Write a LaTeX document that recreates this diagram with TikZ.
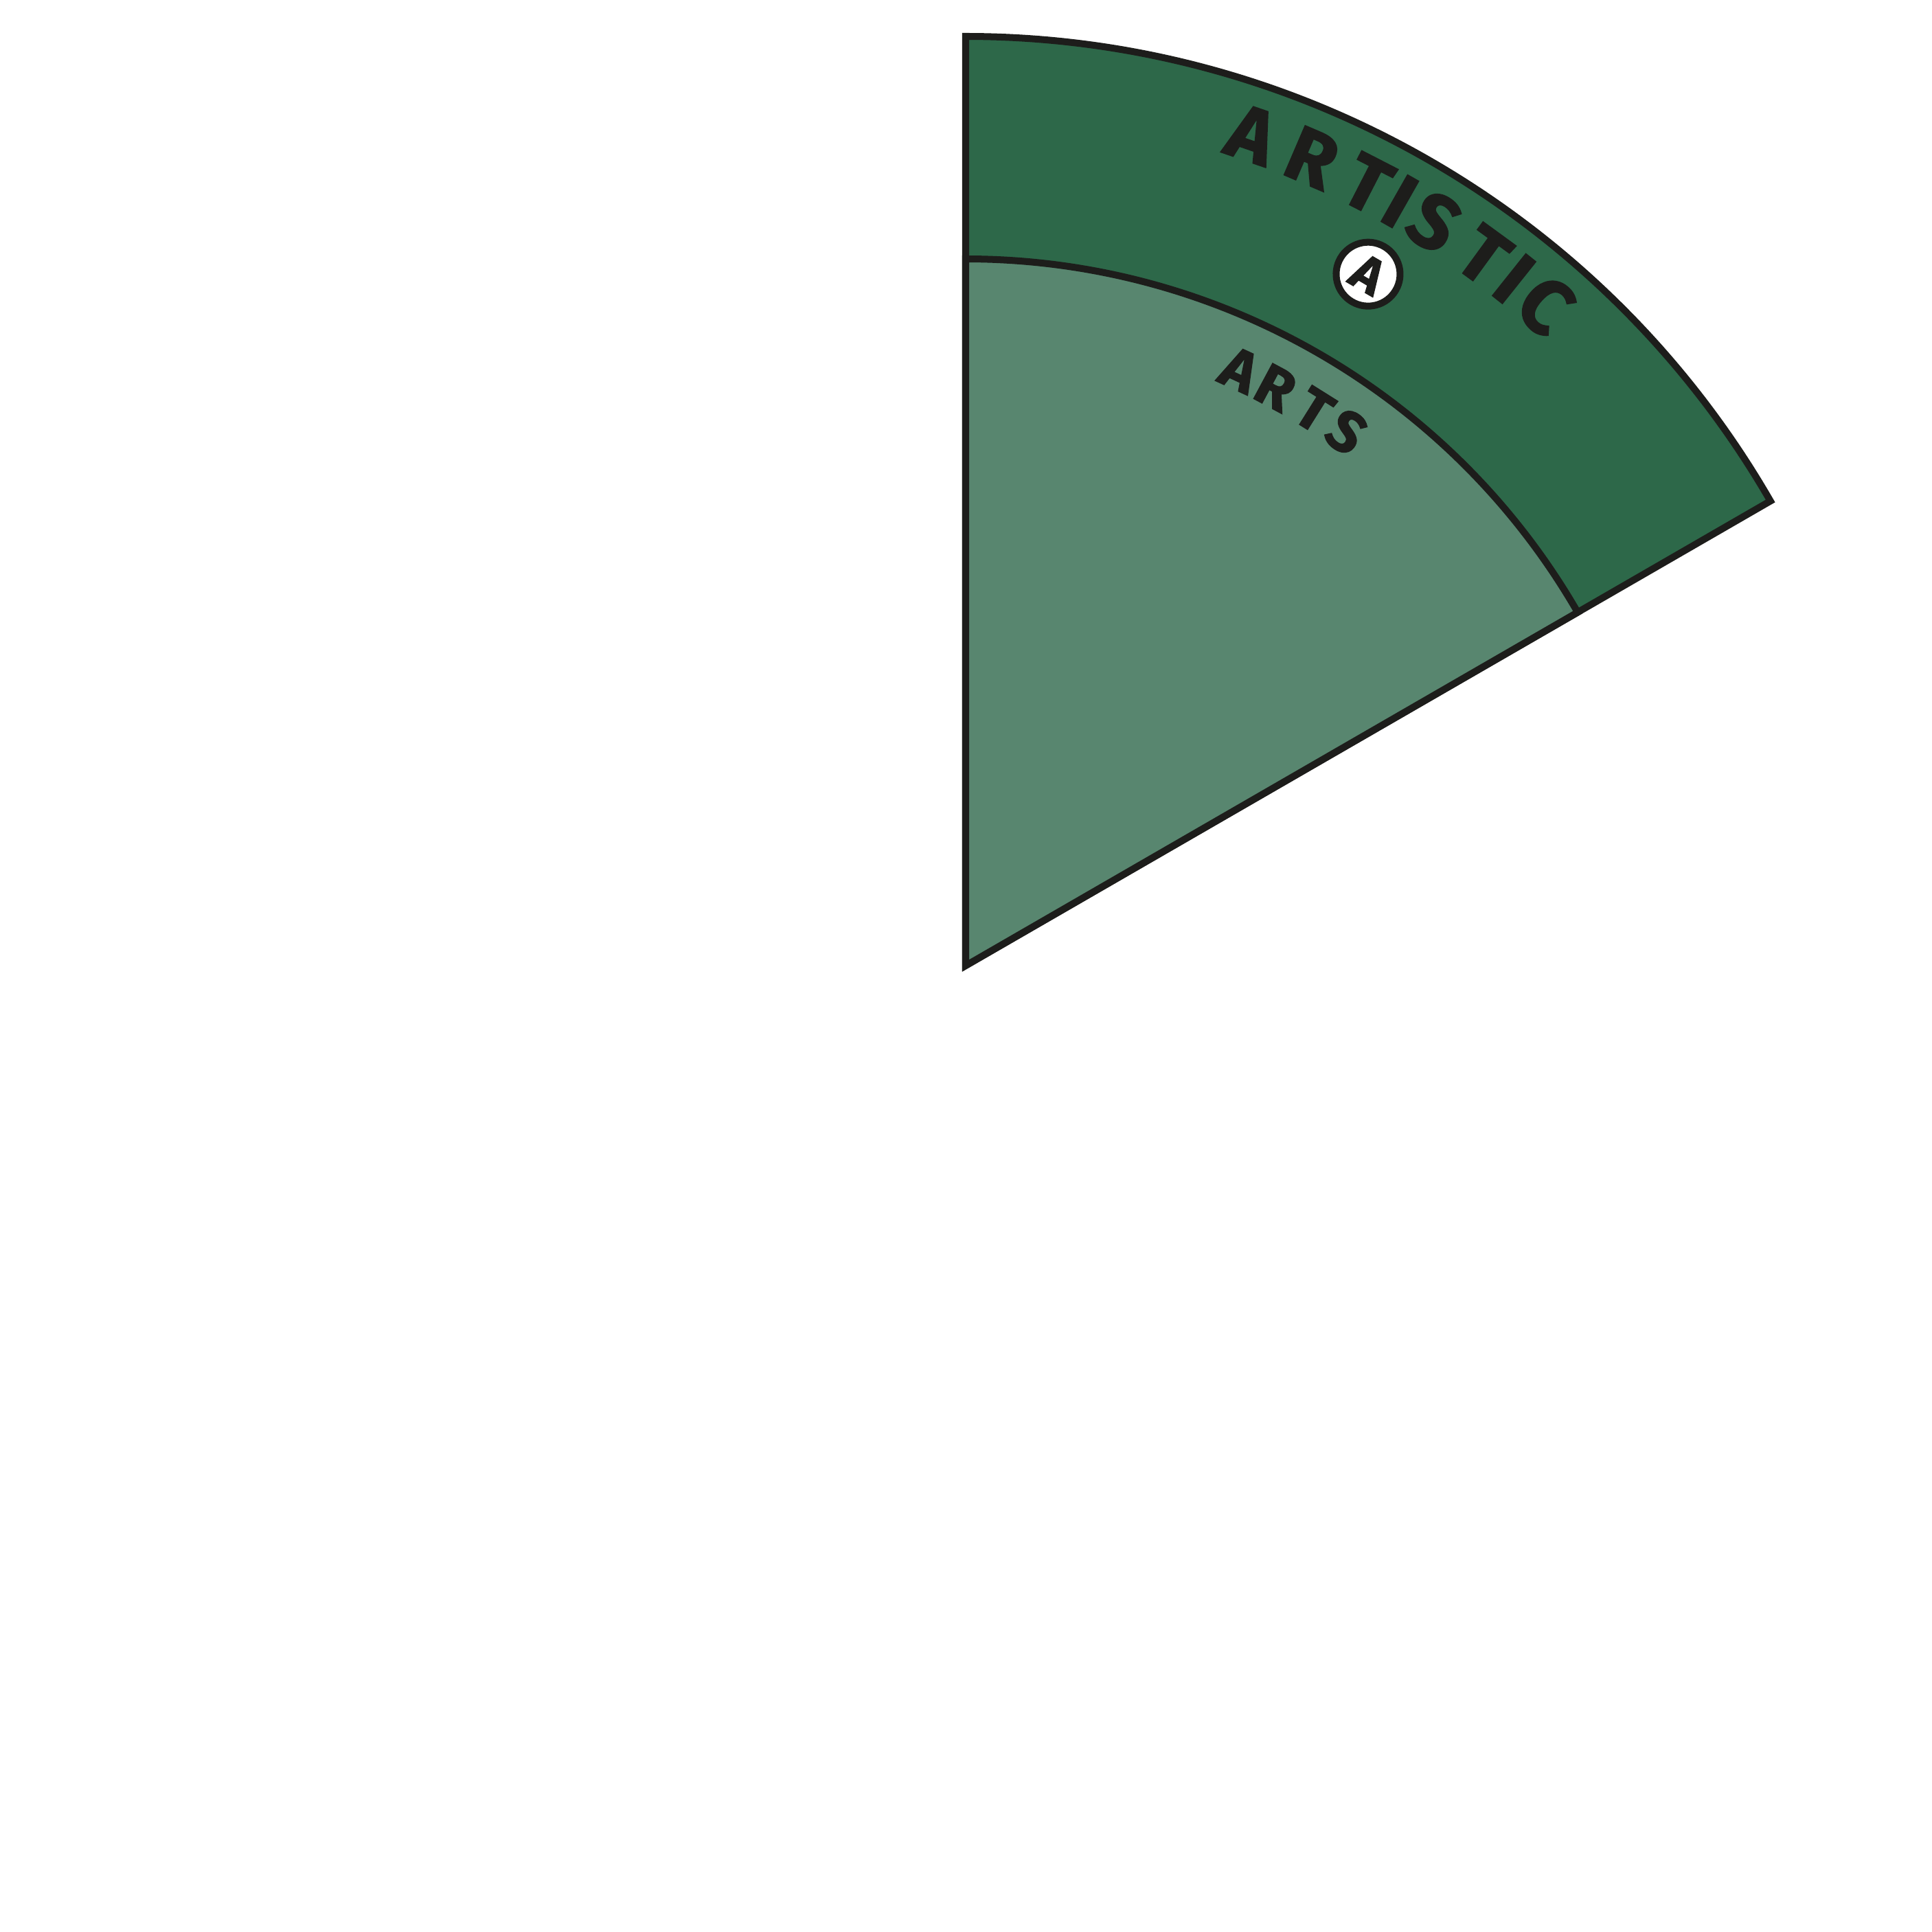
\documentclass[tikz,border=0pt]{standalone}
\usepackage{fontspec}
\newfontfamily\heavyfont{Fira Sans}[BoldFeatures={FakeBold=1.5}]
\definecolor{darkgr}{HTML}{2D6849}
\definecolor{lightgr}{HTML}{58866F}
\definecolor{ink}{HTML}{1D1D1B}
\tikzset{
  edge/.style={draw=ink, line width=2.85pt, line join=miter},
  bigletter/.style={font=\heavyfont\bfseries\fontsize{32}{32}\selectfont, text=ink, inner sep=0pt, anchor=center},
  smallletter/.style={font=\heavyfont\bfseries\fontsize{24}{24}\selectfont, text=ink, inner sep=0pt, anchor=center},
  badge/.style={circle, draw=ink, line width=2.85pt, fill=white, minimum size=0.93cm, inner sep=0pt,
    font=\heavyfont\bfseries\fontsize{21}{21}\selectfont, text=ink},
}
\begin{document}
\begin{tikzpicture}
\useasboundingbox (-14.06,-14.07) rectangle (14.07,14.06);
% outer band
\path[edge, fill=darkgr] (0,0) -- (90:13.53) arc[start angle=90, end angle=30, radius=13.53cm] -- cycle;
% inner wedge
\path[edge, fill=lightgr] (0,0) -- (90:10.29) arc[start angle=90, end angle=30, radius=10.29cm] -- cycle;
% ARTISTIC
\foreach \ch/\ang/\nm in {A/71.0/o1, R/66.8/o2, T/62.8/o3, I/60.4/o4, S/57.8/o5, T/53.9/o6, I/51.4/o7, C/48.7/o8}
  \node[bigletter, rotate=\ang-90] (\nm) at (\ang:12.8) {\ch};
% badge
\node[badge, rotate=-30.2] (badge) at (59.8:11.65) {A};
% ARTS
\foreach \ch/\ang/\nm in {A/65.3/i1, R/61.8/i2, T/57.9/i3, S/54.5/i4}
  \node[smallletter, rotate=\ang-90] (\nm) at (\ang:9.55) {\ch};
\end{tikzpicture}
\end{document}
